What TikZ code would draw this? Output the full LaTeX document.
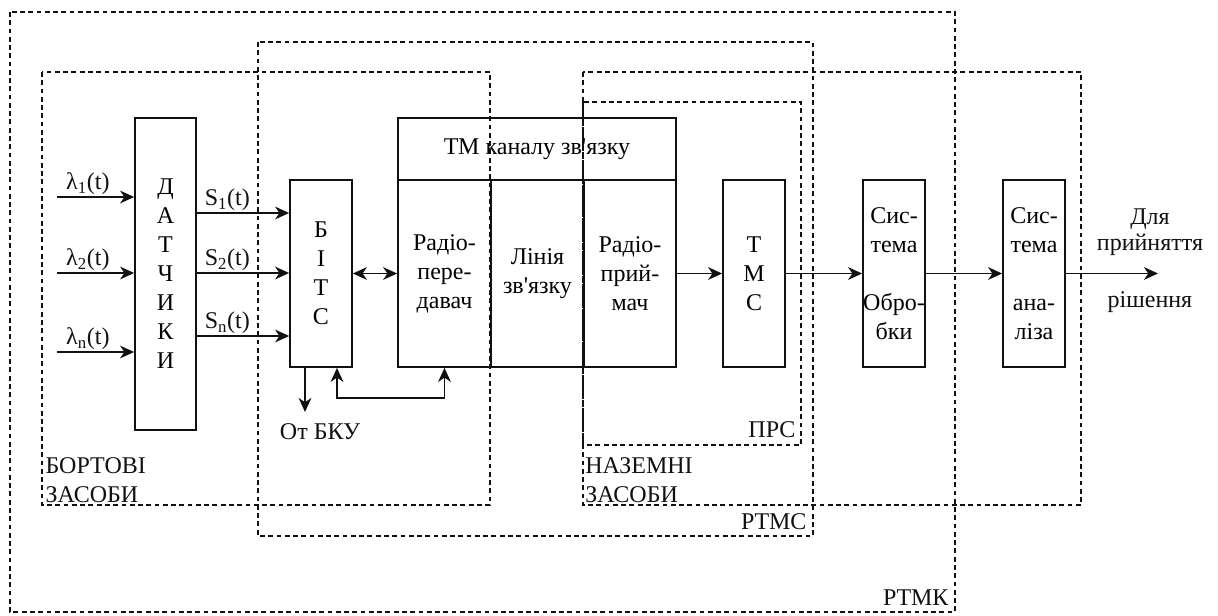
\documentclass[tikz,border=0pt]{standalone}
\usepackage{fontspec}
\setmainfont{Liberation Serif}
\usetikzlibrary{arrows.meta,positioning}
\definecolor{ink}{HTML}{111111}
\newcommand\pxu{0.75pt}
\tikzset{
  >={Stealth[length=10.5pt,width=9.5pt,inset=3.2pt]},
  txt/.style={font=\fontsize{18}{21.75}\selectfont},
  blk/.style={txt,draw=ink,line width=1.3pt,align=center,inner sep=0pt},
  sz/.style 2 args={minimum width=#1*\pxu,minimum height=#2*\pxu},
  zone/.style={draw=ink,line width=1.1pt,dash pattern=on 3.6pt off 2.6pt},
  wire/.style={draw=ink,line width=1.3pt},
  lbl/.style={txt,text=ink,inner sep=1pt},
}
\begin{document}
\begin{tikzpicture}[x=\pxu,y=-\pxu]
\useasboundingbox (0,0) rectangle (1218,615);
% dashed zones
\draw[zone] (10,12) rectangle (955,612);\draw[zone] (258,42) rectangle (813,536);
\draw[zone] (42,72) rectangle (490,505);\draw[zone] (583,72) rectangle (1081,505);
\draw[zone] (583,102) rectangle (801,445);
\node[lbl,align=left,anchor=west] (bort) at (44,480) {БОРТОВІ\\ЗАСОБИ};
\node[lbl,align=left,anchor=west,inner sep=0pt] (nazem) at (585,480) {НАЗЕМНІ\\ЗАСОБИ};
\node[lbl,anchor=east] (prs) at (797,430) {ПРС};\node[lbl,anchor=east] (rtms) at (808,522) {РТМС};
\node[lbl,anchor=east] (rtmk) at (950,598) {РТМК};
% blocks
\node[blk,sz={61}{312}] (dat) at (165.5,274) {Д\\А\\Т\\Ч\\И\\К\\И};
\node[blk,sz={62}{187}] (bits) at (321,273.5) {Б\\І\\Т\\С};
\node[blk,sz={278}{62}] (tmh) at (537,149) {ТМ каналу зв\textquotesingle язку};
\node[blk,sz={93}{187}] (tx) at (444.5,273.5) {Радіо-\\пере-\\давач};
\node[blk,sz={93}{187}] (ln) at (537.5,273.5) {Лінія\\зв\textquotesingle язку};
\node[blk,sz={92}{187}] (rx) at (630,273.5) {Радіо-\\прий-\\мач};
\node[blk,sz={62}{187}] (tms) at (754,273.5) {Т\\М\\С};
\node[blk,sz={62}{187}] (obr) at (894,273.5) {Сис-\\тема\\[21.75pt]Обро-\\бки};
\node[blk,sz={62}{187}] (anl) at (1034,273.5) {Сис-\\тема\\[21.75pt]ана-\\ліза};
% inputs and outputs of the sensors
\foreach \y/\s in {197/1,273/2,352/n}
  \draw[wire,->] (57,\y) -- (dat.west |- 0,\y) node[lbl,pos=.4,above] {λ\textsubscript{\s}(t)};
\foreach \y/\s in {213/1,273/2,336/n}
  \draw[wire,->] (dat.east |- 0,\y) -- (bits.west |- 0,\y) node[lbl,pos=.33,above] {S\textsubscript{\s}(t)};
\draw[wire,<->] (bits.east) -- (tx.west);
\coordinate (bku) at (305,412);\coordinate (fb) at (337,398);
\draw[wire,->] (bits.south -| bku) -- (bku);
\node[lbl] (bkut) at (320,432) {От БКУ};
\draw[wire,<->] (bits.south -| fb) -- (fb) -- (fb -| tx.south) -- (tx.south);
\draw[wire,->] (rx.east) -- (tms.west);\draw[wire,->] (tms.east) -- (obr.west);
\draw[wire,->] (obr.east) -- (anl.west);
\coordinate (out) at (1158,273.5);\draw[wire,->] (anl.east) -- (out);
\node[lbl,align=center,font=\fontsize{18}{19.5}\selectfont] (dlya) at (1150,232) {Для\\прийняття};
\node[lbl] (rish) at (1150,302) {рішення};
\end{tikzpicture}
\end{document}
